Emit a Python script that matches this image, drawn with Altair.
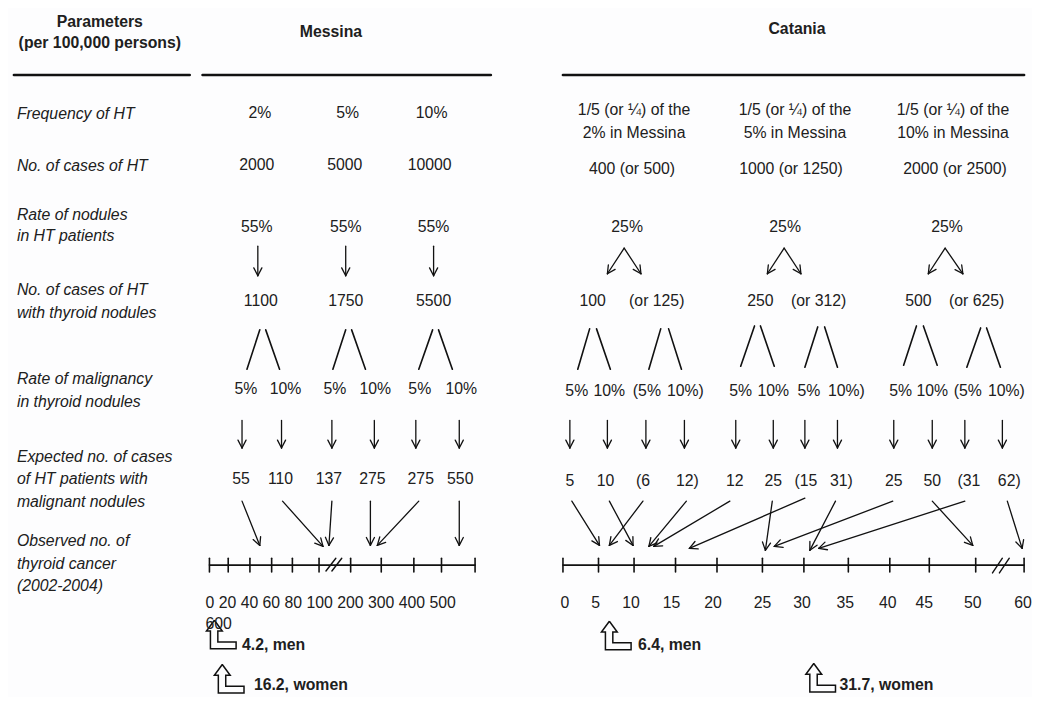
import math
import altair as alt
import pandas as pd

FONT = "Liberation Sans"
INK = "#202020"
LINE = "#111111"
FS = 15.8

# ------------------------------------------------------------------ values
header_bold = ["Parameters", "(per 100,000 persons)", "Messina", "Catania"]
row_labels = ["Frequency of HT", "No. of cases of HT", "Rate of nodules", "in HT patients",
              "No. of cases of HT", "with thyroid nodules", "Rate of malignancy",
              "in thyroid nodules", "Expected no. of cases", "of  HT patients with",
              "malignant nodules", "Observed no. of", "thyroid cancer", "(2002-2004)"]

messina_freq = ["2%", "5%", "10%"]
messina_cases = ["2000", "5000", "10000"]
messina_nodule_rate = ["55%", "55%", "55%"]
messina_nodules = ["1100", "1750", "5500"]
messina_malig = ["5%", "10%", "5%", "10%", "5%", "10%"]
messina_expected = ["55", "110", "137", "275", "275", "550"]
messina_ticks = ["0", "20", "40", "60", "80", "100", "200", "300", "400", "500", "600"]

catania_freq_1 = ["1/5 (or \u00bc) of the"] * 3
catania_freq_2 = ["2% in Messina", "5% in Messina", "10% in Messina"]
catania_cases = ["400 (or 500)", "1000 (or 1250)", "2000 (or 2500)"]
catania_nodule_rate = ["25%", "25%", "25%"]
catania_nodules = ["100", "(or 125)", "250", "(or 312)", "500", "(or 625)"]
catania_malig = ["5%", "10%", "(5%", "10%)", "5%", "10%", "5%", "10%)",
                 "5%", "10%", "(5%", "10%)"]
catania_expected = ["5", "10", "(6", "12)", "12", "25", "(15", "31)",
                    "25", "50", "(31", "62)"]
catania_ticks = ["0", "5", "10", "15", "20", "25", "30", "35", "40", "45", "50", "60"]

observed = ["4.2, men", "16.2, women", "6.4, men", "31.7, women"]

# ------------------------------------------------------------------ layout (pixels)
header_xy = [(99, 20), (99, 42), (333, 30), (805, 27)]
header_rules = [(12, 190, 74), (203, 495, 74), (568, 1035, 74)]
row_label_x = 15
row_label_y = [114, 167, 216, 238, 293, 316, 383, 406, 462, 485, 508, 548, 571, 593]

m_freq_x, m_freq_y = [261, 350, 435], 113
m_cases_x, m_cases_y = [258, 347, 433], 166
m_rate_x, m_rate_y = [258, 348, 437], 228
m_rate_arrow_x, m_rate_arrow_y = [259, 348, 437], (248, 278)
m_nod_x, m_nod_y = [262, 348, 437], 304
m_lambda = [((261, 333), (248, 373)), ((267, 333), (281, 373)),
            ((348, 333), (335, 373)), ((354, 333), (368, 373)),
            ((436, 333), (422, 373)), ((442, 333), (456, 373))]
m_malig_x, m_malig_y = [247, 287, 337, 378, 423, 465], 393
m_down_x, m_down_y = [243, 283, 334, 377, 419, 463], (425, 453)
m_exp_x, m_exp_y = [242, 282, 331, 375, 424, 464], 485
m_diag = [((243, 507), (261, 552)), ((284, 507), (325, 553)), ((334, 507), (331, 552)),
          ((373, 507), (373, 552)), ((422, 507), (380, 552)), ((463, 507), (463, 552))]
m_axis = (210, 479, 572)
m_tick_x = [210, 229, 251, 273, 294, 321, 353, 384, 417, 445, 479]
m_break = [((328, 578), (338, 565)), ((334, 578), (344, 565))]
m_label_xy = (206, 610, 632)

c_freq_x, c_freq_y = [640, 803, 963], (110, 133)
c_cases_x, c_cases_y = [638, 799, 965], 170
c_rate_x, c_rate_y = [633, 793, 957], 228
c_split = [(630, 613, 647), (792, 775, 809), (955, 938, 973)]
c_split_y = (250, 276)
c_nod_x, c_nod_y = [598, 663, 768, 827, 928, 987], 304
c_lambda = [((595, 332), (583, 373)), ((602, 332), (616, 373)),
            ((667, 332), (655, 373)), ((675, 332), (688, 373)),
            ((762, 329), (748, 370)), ((768, 329), (782, 370)),
            ((826, 330), (813, 371)), ((833, 330), (846, 371)),
            ((926, 329), (913, 369)), ((933, 329), (947, 369)),
            ((991, 331), (977, 371)), ((997, 331), (1011, 371))]
c_malig_x, c_malig_y = [582, 615, 653, 692, 748, 781, 817, 855, 910, 942, 978, 1017], 395
c_down_x, c_down_y = [575, 613, 652, 691, 743, 781, 813, 846, 903, 942, 975, 1013], (425, 453)
c_exp_x, c_exp_y = [575, 611, 649, 694, 742, 781, 814, 850, 903, 942, 979, 1020], 487
c_diag = [((577, 507), (605, 552)), ((615, 507), (639, 552)), ((649, 507), (615, 552)),
          ((693, 507), (655, 553)), ((737, 507), (660, 553)), ((813, 504), (696, 555)),
          ((780, 507), (773, 557)), ((844, 507), (818, 557)), ((902, 507), (782, 553)),
          ((975, 507), (827, 555)), ((942, 507), (983, 552)), ((1018, 507), (1033, 555))]
c_axis = (568, 1035, 572)
c_tick_x = [568, 604, 640, 682, 724, 770, 812, 857, 899, 939, 986, 1035]
c_break = [((1003, 580), (1013, 565)), ((1010, 580), (1020, 565))]
c_label_x, c_label_y = [570, 601, 637, 678, 720, 770, 810, 854, 897, 934, 983, 1034], 610
tick_half = 7

hollow_tips = [(215, 628), (223, 673), (615, 629), (822, 672)]
hollow_shape = [(0, 0), (8, 11), (3.5, 11), (3.5, 22), (22, 22), (22, 29),
                (-4, 29), (-4, 11), (-8, 11), (0, 0)]
observed_xy = [(243, 653), (255, 694), (644, 653), (848, 694)]

# ------------------------------------------------------------------ build tables
texts = []


def add_text(t, x, y, kind):
    texts.append({"text": t, "x": x, "y": y, "kind": kind})


for t, (x, y) in zip(header_bold, header_xy):
    add_text(t, x, y, "bc")
for t, y in zip(row_labels, row_label_y):
    add_text(t, row_label_x, y, "il")
for vals, xs, y in [(messina_freq, m_freq_x, m_freq_y), (messina_cases, m_cases_x, m_cases_y),
                    (messina_nodule_rate, m_rate_x, m_rate_y), (messina_nodules, m_nod_x, m_nod_y),
                    (messina_malig, m_malig_x, m_malig_y), (messina_expected, m_exp_x, m_exp_y),
                    (catania_freq_1, c_freq_x, c_freq_y[0]), (catania_freq_2, c_freq_x, c_freq_y[1]),
                    (catania_cases, c_cases_x, c_cases_y), (catania_nodule_rate, c_rate_x, c_rate_y),
                    (catania_nodules, c_nod_x, c_nod_y), (catania_malig, c_malig_x, c_malig_y),
                    (catania_expected, c_exp_x, c_exp_y), (catania_ticks, c_label_x, c_label_y)]:
    for t, x in zip(vals, xs):
        add_text(t, x, y, "c")
add_text(" ".join(messina_ticks[:-1]), m_label_xy[0], m_label_xy[1], "l")
add_text(messina_ticks[-1], m_label_xy[0], m_label_xy[2], "l")
for t, (x, y) in zip(observed, observed_xy):
    add_text(t, x, y, "bl")
texts = pd.DataFrame(texts)

segs = []


def seg(x1, y1, x2, y2, w=1.3):
    segs.append({"x": x1, "y": y1, "x2": x2, "y2": y2, "w": w})


def arrow(x1, y1, x2, y2, L=9, ang=27):
    seg(x1, y1, x2, y2)
    dx, dy = x2 - x1, y2 - y1
    n = math.hypot(dx, dy)
    ux, uy = -dx / n, -dy / n
    for s in (1, -1):
        a = math.radians(ang) * s
        hx = ux * math.cos(a) - uy * math.sin(a)
        hy = ux * math.sin(a) + uy * math.cos(a)
        seg(x2, y2, x2 + L * hx, y2 + L * hy)


for x1, x2, y in header_rules:
    seg(x1, y, x2, y, 2.6)
for x in m_rate_arrow_x:
    arrow(x, m_rate_arrow_y[0], x, m_rate_arrow_y[1])
for (a, b) in m_lambda + c_lambda:
    seg(a[0], a[1], b[0], b[1], 1.6)
for x in m_down_x:
    arrow(x, m_down_y[0], x, m_down_y[1])
for x in c_down_x:
    arrow(x, c_down_y[0], x, c_down_y[1])
for (a, b) in m_diag + c_diag:
    arrow(a[0], a[1], b[0], b[1])
for apex, l, r in c_split:
    arrow(apex, c_split_y[0], l, c_split_y[1])
    arrow(apex, c_split_y[0], r, c_split_y[1])
for (x1, x2, y), ticks, brk in [(m_axis, m_tick_x, m_break), (c_axis, c_tick_x, c_break)]:
    seg(x1, y, x2, y, 1.6)
    for x in ticks:
        seg(x, y - tick_half, x, y + tick_half, 1.6)
    for (a, b) in brk:
        seg(a[0], a[1], b[0], b[1], 1.4)
segs = pd.DataFrame(segs)

shapes = []
for i, (tx, ty) in enumerate(hollow_tips):
    for j, (dx, dy) in enumerate(hollow_shape):
        shapes.append({"id": i, "o": j, "x": tx + dx, "y": ty + dy})
shapes = pd.DataFrame(shapes)

# ------------------------------------------------------------------ chart
W, H = 1024, 689
X0, X1, Y0, Y1 = 6, 1043, 6, 706
xs = alt.Scale(domain=[X0, X1], nice=False, zero=False)
ys = alt.Scale(domain=[Y0, Y1], nice=False, zero=False, reverse=True)

rules = alt.Chart(segs).mark_rule(color=LINE, strokeCap="round").encode(
    x=alt.X("x:Q", scale=xs, axis=None), y=alt.Y("y:Q", scale=ys, axis=None),
    x2="x2:Q", y2="y2:Q", strokeWidth=alt.StrokeWidth("w:Q", scale=None))

outline = alt.Chart(shapes).mark_line(color=LINE, strokeWidth=1.5, strokeJoin="miter").encode(
    x=alt.X("x:Q", scale=xs, axis=None), y=alt.Y("y:Q", scale=ys, axis=None),
    detail="id:N", order="o:Q")


def text_layer(kind, align, weight="normal", style="normal"):
    return alt.Chart(texts).transform_filter(alt.datum.kind == kind).mark_text(
        align=align, baseline="middle", font=FONT, fontSize=FS, fontWeight=weight,
        fontStyle=style, color=INK).encode(
        x=alt.X("x:Q", scale=xs, axis=None), y=alt.Y("y:Q", scale=ys, axis=None),
        text="text:N")


chart = alt.layer(
    rules, outline,
    text_layer("c", "center"),
    text_layer("l", "left"),
    text_layer("bc", "center", "bold"),
    text_layer("bl", "left", "bold"),
    text_layer("il", "left", style="italic"),
).properties(
    width=W, height=H, padding=0, autosize="none", background="#fdfdfe"
).configure_view(stroke=None)

chart.save("out.html", embed_options={"renderer": "svg", "actions": False})
